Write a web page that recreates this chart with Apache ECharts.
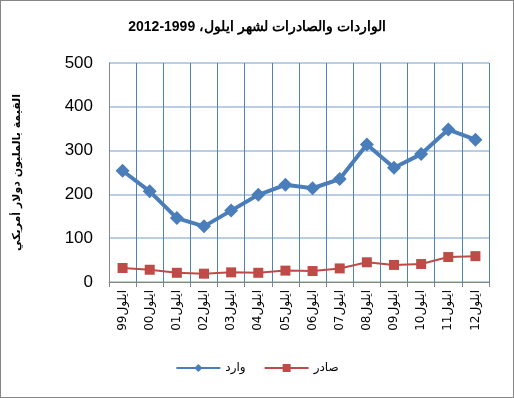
<!DOCTYPE html>
<html>
<head>
<meta charset="utf-8">
<script src="https://cdn.jsdelivr.net/npm/echarts@6/dist/echarts.min.js"></script>
<style>
  html, body { margin: 0; padding: 0; background: #fff; }
  #chart { width: 512px; height: 396px; border: 1px solid #868686; }
</style>
</head>
<body>
<div id="chart"></div>
<script>
const years = ['99', '00', '01', '02', '03', '04', '05', '06', '07', '08', '09', '10', '11', '12']
const categories = years.map(y => y + 'ايلول')
const imports = [254, 207, 146, 127, 163, 199, 222, 214, 235, 314, 261, 292, 348, 325]
const exports = [32, 28, 21, 19, 22, 21, 26, 25, 31, 45, 39, 41, 57, 59]

const chart = echarts.init(document.getElementById('chart'))
const option = {
  animation: false,
  title: {
    text: 'الواردات والصادرات لشهر ايلول، 1999-2012',
    left: 'center',
    top: 14,
    textStyle: { fontFamily: 'Liberation Sans', fontSize: 14, fontWeight: 'bold', color: '#000' }
  },
  legend: {
    bottom: 18,
    left: 'center',
    itemWidth: 44,
    itemHeight: 10,
    itemGap: 18,
    textStyle: { fontFamily: 'DejaVu Sans', fontSize: 12, color: '#000' },
    data: ['وارد', 'صادر']
  },
  grid: { left: 108, right: 24, top: 62, bottom: 115 },
  xAxis: {
    type: 'category',
    data: categories,
    boundaryGap: true,
    axisLine: { lineStyle: { color: '#868686' } },
    axisTick: { show: true, length: 5, lineStyle: { color: '#868686' } },
    axisLabel: { rotate: 90, margin: 8, fontFamily: 'DejaVu Sans', fontSize: 12, color: '#000' },
    splitLine: { show: true, lineStyle: { color: '#4f81bd', width: 1 } }
  },
  yAxis: {
    type: 'value',
    min: 0,
    max: 500,
    interval: 100,
    name: 'القيمة بالمليون دولار أمريكي',
    nameLocation: 'middle',
    nameGap: 86,
    nameRotate: 90,
    nameTextStyle: { fontFamily: 'DejaVu Sans', fontSize: 11, fontWeight: 'bold', color: '#000' },
    axisLine: { show: true, lineStyle: { color: '#868686' } },
    axisTick: { show: false },
    axisLabel: { margin: 16, fontFamily: 'Liberation Sans', fontSize: 17, color: '#000' },
    splitLine: { show: true, lineStyle: { color: '#b9cde5', width: 2 } }
  },
  series: [
    {
      name: 'وارد',
      type: 'line',
      data: imports,
      symbol: 'diamond',
      symbolSize: 14,
      itemStyle: { color: '#4a7ebb' },
      lineStyle: { color: '#4a7ebb', width: 4 }
    },
    {
      name: 'صادر',
      type: 'line',
      data: exports,
      symbol: 'rect',
      symbolSize: 10,
      itemStyle: { color: '#be4b48' },
      lineStyle: { color: '#be4b48', width: 2 }
    }
  ]
}
chart.setOption(option)
</script>
</body>
</html>
